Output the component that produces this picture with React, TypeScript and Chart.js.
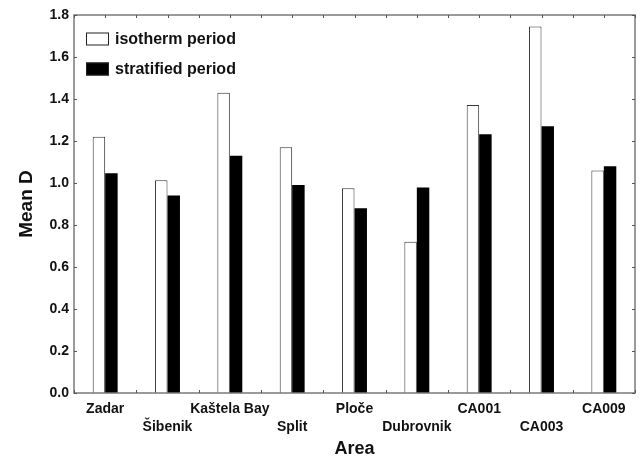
import { useEffect, useRef } from 'react';
import { Chart, registerables } from 'chart.js';

Chart.register(...registerables);

const categories = ['Zadar', 'Šibenik', 'Kaštela Bay', 'Split', 'Ploče', 'Dubrovnik', 'CA001', 'CA003', 'CA009'];
const isothermValues = [1.22, 1.013, 1.43, 1.17, 0.975, 0.72, 1.371, 1.745, 1.06];
const stratifiedValues = [1.047, 0.94, 1.13, 0.99, 0.88, 0.978, 1.232, 1.27, 1.08];
const seriesLabels = ['isotherm period', 'stratified period'];
const yTickValues = [0, 0.2, 0.4, 0.6, 0.8, 1.0, 1.2, 1.4, 1.6, 1.8];

const FONT = "'Liberation Sans', Arial, sans-serif";

const framePlugin = {
  id: 'frameAndTicks',
  afterDraw(chart: any) {
    const { ctx, chartArea } = chart;
    const { left, right, top, bottom } = chartArea;
    const x = chart.scales.x;
    const y = chart.scales.y;
    ctx.save();
    ctx.strokeStyle = '#7a7a7a';
    ctx.lineWidth = 1.5;
    ctx.strokeRect(left, top, right - left, bottom - top);
    ctx.lineWidth = 1;
    ctx.strokeStyle = '#555';
    const tl = 3;
    ctx.beginPath();
    yTickValues.forEach((v) => {
      const py = Math.round(y.getPixelForValue(v)) + 0.5;
      ctx.moveTo(left, py);
      ctx.lineTo(left + tl, py);
      ctx.moveTo(right, py);
      ctx.lineTo(right - tl, py);
    });
    for (let i = 0; i <= categories.length * 2; i++) {
      const px = Math.round(x.getPixelForValue(i / 2 - 0.5)) + 0.5;
      ctx.moveTo(px, top);
      ctx.lineTo(px, top + tl);
      if (i % 2 === 0) {
        ctx.moveTo(px, bottom);
        ctx.lineTo(px, bottom - tl);
      }
    }
    ctx.stroke();

    // legend inside plot area
    const bx = left + 12;
    const rows = [top + 24, top + 54];
    ctx.font = `bold 16px ${FONT}`;
    ctx.textBaseline = 'middle';
    ctx.textAlign = 'left';
    chart.data.datasets.forEach((ds: any, i: number) => {
      const cy = rows[i];
      ctx.fillStyle = ds.backgroundColor;
      ctx.fillRect(bx, cy - 6.5, 23, 13);
      ctx.strokeStyle = '#222';
      ctx.lineWidth = 1;
      ctx.strokeRect(bx + 0.5, cy - 6.5 + 0.5, 22, 12);
      ctx.fillStyle = '#111';
      ctx.fillText(ds.label, bx + 29, cy + 1);
    });
    ctx.restore();
  },
};

export default function App() {
  const canvasRef = useRef<HTMLCanvasElement | null>(null);

  useEffect(() => {
    document.body.style.margin = '0';
    const canvas = canvasRef.current;
    if (!canvas) return;
    const labels = categories.map((c, i) => (i % 2 === 1 ? ['', c] : [c]));
    const chart = new Chart(canvas, {
      type: 'bar',
      data: {
        labels,
        datasets: [
          {
            label: seriesLabels[0],
            data: isothermValues,
            backgroundColor: '#ffffff',
            borderColor: '#333333',
            borderWidth: 1,
          },
          {
            label: seriesLabels[1],
            data: stratifiedValues,
            backgroundColor: '#000000',
            borderColor: '#000000',
            borderWidth: 0,
          },
        ],
      },
      options: {
        responsive: false,
        animation: false,
        layout: { padding: { top: 15, right: 5, left: 0, bottom: 0 } },
        datasets: {
          bar: { categoryPercentage: 0.4, barPercentage: 1.0 },
        },
        plugins: {
          legend: { display: false },
          tooltip: { enabled: false },
        },
        scales: {
          x: {
            grid: { display: false, drawTicks: false },
            border: { display: false },
            ticks: {
              color: '#111',
              font: { family: FONT, size: 14, weight: 'bold', lineHeight: 1.3 },
              padding: 7,
              maxRotation: 0,
              autoSkip: false,
            },
            title: {
              display: true,
              text: 'Area',
              color: '#111',
              font: { family: FONT, size: 18, weight: 'bold' },
              padding: { top: 0, bottom: 0 },
            },
            afterFit: (scale: any) => {
              scale.height = 67;
            },
          },
          y: {
            min: 0,
            max: 1.8,
            grid: { display: false, drawTicks: false },
            border: { display: false },
            ticks: {
              stepSize: 0.2,
              color: '#111',
              font: { family: FONT, size: 14, weight: 'bold' },
              padding: 5,
              callback: (v: any) => Number(v).toFixed(1),
            },
            title: {
              display: true,
              text: 'Mean D',
              color: '#111',
              font: { family: FONT, size: 19, weight: 'bold' },
              padding: { top: 15, bottom: 0 },
            },
            afterFit: (scale: any) => {
              scale.width = 74;
            },
          },
        },
      },
      plugins: [framePlugin],
    });
    return () => chart.destroy();
  }, []);

  return (
    <div style={{ width: 640, height: 460, background: '#fff' }}>
      <canvas ref={canvasRef} width={640} height={460} />
    </div>
  );
}
